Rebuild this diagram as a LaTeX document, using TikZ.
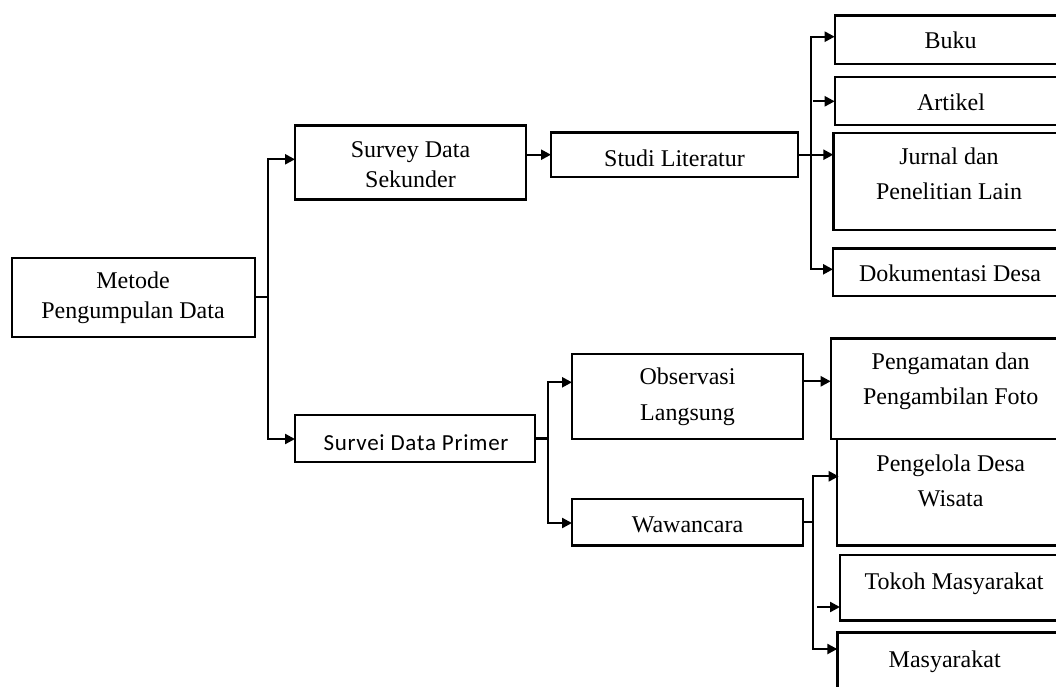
\documentclass[tikz,border=0pt]{standalone}
\usepackage{fontspec}
\setmainfont{Liberation Serif}
\newfontfamily\calfont[LetterSpace=3]{Carlito}
\usetikzlibrary{arrows.meta}
\tikzset{
  box/.style={draw, line width=2.4pt, inner sep=0pt, outer sep=0pt},
  lbl/.style={anchor=base, inner sep=0pt, font=\fontsize{24}{28}\selectfont},
  arr/.style={line width=2.3pt, -{Triangle[length=10pt,width=10pt]}},
  ln/.style={line width=2.3pt}
}
\newcommand\mybox[5]{\node[box, minimum width={(#4-#2)*1pt}, minimum height={(#5-#3)*1pt}] (#1) at ({(#2+#4)/2},{(#3+#5)/2}) {};}
\newcommand\txt[4]{\node[lbl] (#1) at (#2,{#3+7}) {#4};}
\begin{document}
\begin{tikzpicture}[x=1pt,y=-1pt]
\useasboundingbox (0,0) rectangle (1056,687);
\clip (0,0) rectangle (1056,687);
\fill[white] (0,0) rectangle (1056,687);
% boxes
\mybox{metode}{11.7}{257.7}{255}{336.7}
\mybox{sekunder}{295}{125.7}{526}{199.3}
\mybox{primer}{295}{414.7}{534.7}{462}
\mybox{studi}{551}{132.7}{798}{176.7}
\mybox{buku}{834.7}{15.7}{1068}{64}
\mybox{artikel}{834.7}{77.3}{1068}{125.3}
\mybox{jurnal}{833.3}{133.3}{1068}{230}
\mybox{dok}{833}{248.3}{1068}{296}
\mybox{obs}{572}{353.7}{803}{439}
\mybox{waw}{572}{499}{803}{545.3}
\mybox{pengamatan}{830.7}{338.3}{1068}{438.7}
\mybox{pengelola}{836.7}{438.7}{1068}{545.3}
\mybox{tokoh}{840}{554.7}{1068}{620.3}
\mybox{masy}{837.3}{632.3}{1068}{700}
% texts
\txt{tm1}{133}{281.7}{Metode}
\txt{tm2}{133}{311.7}{Pengumpulan Data}
\txt{ts1}{410.5}{150.7}{Survey Data}
\txt{ts2}{410.5}{180}{Sekunder}
\node[lbl, font=\calfont\fontsize{23}{27}\selectfont] (tp) at (416,{443+7}) {Survei Data Primer};
\txt{tst}{674.5}{159.3}{Studi Literatur}
\txt{tb}{950.7}{41.7}{Buku}
\txt{ta}{951}{103.3}{Artikel}
\txt{tj1}{949}{157.3}{Jurnal dan}
\txt{tj2}{949}{192.7}{Penelitian Lain}
\txt{td}{950}{274}{Dokumentasi Desa}
\txt{to1}{687.5}{377.3}{Observasi}
\txt{to2}{687.5}{413}{Langsung}
\txt{tw}{687.5}{525.7}{Wawancara}
\txt{tpa1}{950.7}{362.3}{Pengamatan dan}
\txt{tpa2}{950.7}{397}{Pengambilan Foto}
\txt{tpe1}{950.7}{464.7}{Pengelola Desa}
\txt{tpe2}{950.7}{499}{Wisata}
\txt{tt}{954}{582.3}{Tokoh Masyarakat}
\txt{tmy}{944.7}{660.3}{Masyarakat}
% junction coordinates
\coordinate (j1) at (268,297.2);
\coordinate (js) at (268,159.3);
\coordinate (jp) at (268,439);
\coordinate (s1) at (811.3,36.7);
\coordinate (s2) at (811.3,269.3);
\coordinate (p1) at (548,382.3);
\coordinate (p2) at (548,523);
\coordinate (w1) at (813,476.3);
\coordinate (w2) at (813,649);
% connectors
\draw[ln] (metode.east) -- (j1);
\draw[arr] (j1) -- (js) -- (js -| sekunder.west);
\draw[arr] (j1) -- (jp) -- (jp -| primer.west);
\draw[arr] (sekunder.east |- studi.west) -- (studi.west);
\draw[arr] (studi.east) -- (studi.east -| jurnal.west);
\draw[arr] (s2) -- (s1) -- (s1 -| buku.west);
\draw[arr] (s1) -- (s2) -- (s2 -| dok.west);
\draw[arr] ([xshift=2pt]s1 |- artikel.west) -- (artikel.west);
\draw[ln] (primer.east) -- (primer.east -| p1);
\draw[arr] (p2) -- (p1) -- (p1 -| obs.west);
\draw[arr] (p1) -- (p2) -- (p2 -| waw.west);
\draw[arr] (obs.east |- 0,381.3) -- (pengamatan.west |- 0,381.3);
\draw[ln] (waw.east) -- (waw.east -| w1);
\draw[arr] (w2) -- (w1) -- ([xshift=2pt]w1 -| pengelola.west);
\draw[arr] (w1) -- (w2) -- (w2 -| masy.west);
\draw[arr] ([xshift=4pt]w1 |- 0,607) -- (tokoh.west |- 0,607);
\end{tikzpicture}
\end{document}
